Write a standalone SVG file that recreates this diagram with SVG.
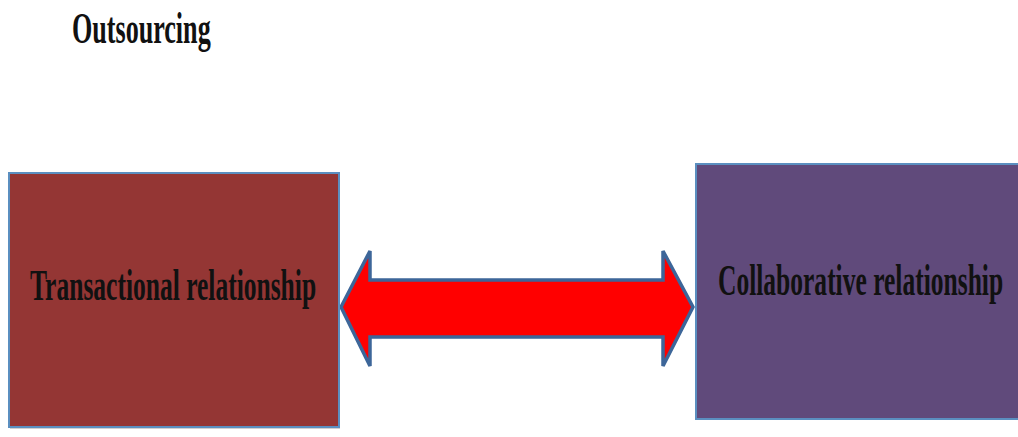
<svg xmlns="http://www.w3.org/2000/svg" width="1018" height="437" viewBox="0 0 1018 437">
  <style>
    .lbl { font-family: "Liberation Serif", "Times New Roman", serif; font-weight: bold; fill: #111; }
    .box { stroke: #5b8fc0; stroke-width: 2; }
  </style>
  <rect width="1018" height="437" fill="#ffffff"/>

  <g id="title">
    <text class="lbl" transform="translate(72,43) scale(0.58,1)" font-size="45">Outsourcing</text>
  </g>

  <g id="connectors">
    <!-- double-headed block arrow between the two relationship types -->
    <path d="M341,307 L370,251 L370,280 L663,280 L663,251 L693,307 L663,366 L663,337 L370,337 L370,366 Z"
          fill="#ff0000" stroke="#3d6699" stroke-width="3.5" stroke-linejoin="miter"/>
  </g>

  <g id="transactional">
    <rect x="10" y="175" width="330" height="254" fill="#b0b0b0" opacity="0.6"/>
    <rect class="box" x="9" y="173" width="330" height="254" fill="#943634"/>
    <text class="lbl" transform="translate(30,300) scale(0.58,1)" font-size="44">Transactional relationship</text>
  </g>

  <g id="collaborative">
    <rect class="box" x="696" y="164" width="324" height="255" fill="#604a7b"/>
    <text class="lbl" transform="translate(718,295) scale(0.58,1)" font-size="44">Collaborative relationship</text>
  </g>
</svg>
